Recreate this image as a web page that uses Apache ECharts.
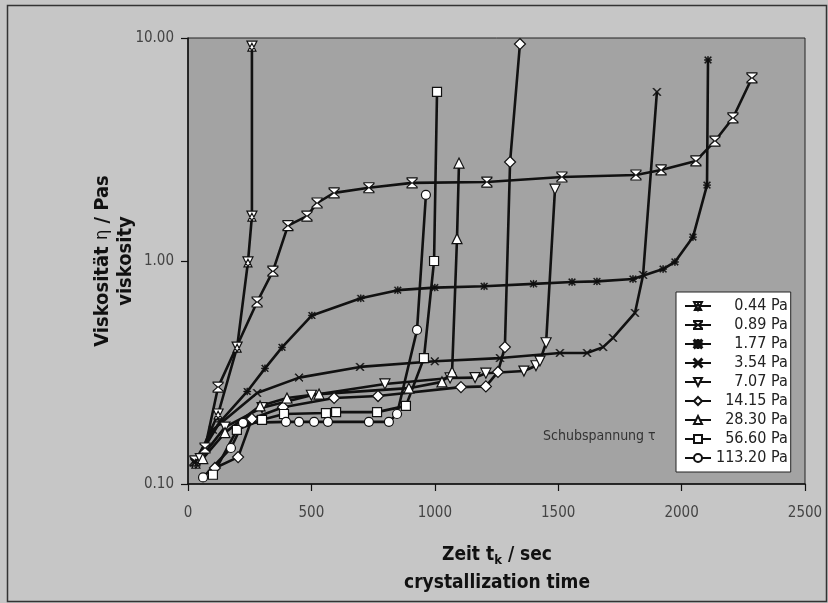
<!DOCTYPE html>
<html>
<head>
<meta charset="utf-8">
<script src="https://cdn.jsdelivr.net/npm/echarts@6/dist/echarts.min.js"></script>
<style>
html,body{margin:0;padding:0;background:#c6c6c6;}
#chart{width:828px;height:603px;}
</style>
</head>
<body>
<div id="chart"></div>
<script>
// ---- data (x: crystallization time / s, y: viscosity / Pa s) ----
const seriesNames = ['0.44 Pa','0.89 Pa','1.77 Pa','3.54 Pa','7.07 Pa','14.15 Pa','28.30 Pa','56.60 Pa','113.20 Pa'];
const xTicks = [0, 500, 1000, 1500, 2000, 2500];
const yTicks = [0.1, 1, 10];

const s044 = [[32,0.124],[122,0.206],[199,0.411],[243,0.99],[259,1.59],[259,9.2]];
const s089 = [[28,0.127],[69,0.145],[122,0.272],[280,0.655],[344,0.90],[405,1.44],[482,1.59],[523,1.82],[592,2.02],[733,2.13],[908,2.24],[1211,2.26],[1515,2.38],[1815,2.43],[1917,2.56],[2058,2.81],[2135,3.45],[2208,4.38],[2285,6.62]];
const s177 = [[30,0.125],[130,0.19],[240,0.26],[312,0.33],[381,0.41],[502,0.57],[700,0.68],[850,0.74],[1000,0.76],[1200,0.77],[1400,0.79],[1556,0.805],[1657,0.81],[1803,0.83],[1925,0.92],[1973,0.99],[2046,1.28],[2103,2.19],[2107,7.97]];
const s354 = [[25,0.125],[101,0.175],[280,0.256],[450,0.30],[697,0.335],[1000,0.355],[1264,0.367],[1507,0.387],[1617,0.387],[1682,0.411],[1722,0.452],[1811,0.585],[1844,0.866],[1900,5.73]];
const s707 = [[50,0.13],[150,0.18],[300,0.22],[500,0.25],[798,0.281],[1062,0.299],[1163,0.30],[1207,0.314],[1361,0.321],[1410,0.339],[1426,0.356],[1451,0.43],[1487,2.10]];
const s1415 = [[109,0.118],[203,0.132],[259,0.196],[385,0.221],[592,0.243],[770,0.248],[1106,0.272],[1207,0.274],[1256,0.318],[1284,0.411],[1305,2.78],[1345,9.4]];
const s2830 = [[60,0.13],[150,0.17],[292,0.224],[401,0.243],[531,0.253],[895,0.269],[1029,0.287],[1070,0.318],[1090,1.26],[1098,2.75]];
const s5660 = [[101,0.110],[198,0.175],[300,0.194],[389,0.206],[559,0.208],[600,0.210],[766,0.210],[883,0.224],[956,0.367],[997,1.0],[1009,5.73]];
const s11320 = [[61,0.107],[174,0.145],[223,0.188],[397,0.19],[450,0.19],[511,0.19],[567,0.19],[733,0.19],[814,0.19],[847,0.206],[928,0.491],[964,1.98]];

const seriesData = [s044, s089, s177, s354, s707, s1415, s2830, s5660, s11320];

// ---- symbols ----
const SYM_HEX = 'path://M0,0 L10,0 L5,9 Z M5,2 L9,9 L1,9 Z';
const SYM_HOUR = 'path://M0,0 L10,0 L10,1 L5.6,5 L10,9 L10,10 L0,10 L0,9 L4.4,5 L0,1 Z';
const SYM_STAR = 'path://M4.4,0 L5.6,0 L5.6,4.4 L10,4.4 L10,5.6 L5.6,5.6 L5.6,10 L4.4,10 L4.4,5.6 L0,5.6 L0,4.4 L4.4,4.4 Z M1,0 L5,4 L9,0 L10,1 L6,5 L10,9 L9,10 L5,6 L1,10 L0,9 L4,5 L0,1 Z';
const SYM_X = 'path://M0.8,0 L5,4.2 L9.2,0 L10,0.8 L5.8,5 L10,9.2 L9.2,10 L5,5.8 L0.8,10 L0,9.2 L4.2,5 L0,0.8 Z';

const symbolDefs = [
  {symbol: SYM_HEX, size: 10, rotate: 0, fill: '#fff'},
  {symbol: SYM_HOUR, size: 10, rotate: 0, fill: '#fff'},
  {symbol: SYM_STAR, size: 7, rotate: 0, fill: '#111'},
  {symbol: SYM_X, size: 8, rotate: 0, fill: '#111'},
  {symbol: 'triangle', size: 10, rotate: 180, fill: '#fff'},
  {symbol: 'diamond', size: 11, rotate: 0, fill: '#fff'},
  {symbol: 'triangle', size: 10, rotate: 0, fill: '#fff'},
  {symbol: 'rect', size: 9, rotate: 0, fill: '#fff'},
  {symbol: 'circle', size: 9, rotate: 0, fill: '#fff'}
];

const NARROW = "'DejaVu Sans Condensed','Liberation Sans Narrow',sans-serif";
const FIG = '\u2007';
// right-align legend labels with figure spaces
const maxLen = Math.max(...seriesNames.map(s => s.length));
const legendLabel = name => FIG.repeat(maxLen - name.length) + name;

const chart = echarts.init(document.getElementById('chart'), null, {renderer: 'canvas'});

const series = seriesNames.map((name, i) => ({
  name: name,
  type: 'line',
  data: seriesData[i],
  symbol: symbolDefs[i].symbol,
  symbolSize: symbolDefs[i].size,
  symbolRotate: symbolDefs[i].rotate,
  showAllSymbol: true,
  lineStyle: {color: '#111', width: 2.6},
  itemStyle: {color: symbolDefs[i].fill, borderColor: '#111', borderWidth: (i === 2 || i === 3) ? 0.6 : 1.2},
  emphasis: {disabled: true},
  animation: false,
  z: 3
}));

const option = {
  backgroundColor: '#c6c6c6',
  animation: false,
  grid: {left: 188, right: 23, top: 38, bottom: 119, show: true, backgroundColor: '#a3a3a3', borderColor: '#222', borderWidth: 1},
  xAxis: {
    type: 'value', min: xTicks[0], max: xTicks[xTicks.length - 1], interval: 500,
    axisLine: {show: true, lineStyle: {color: '#111', width: 1.5}},
    axisTick: {show: true, inside: false, length: 7, lineStyle: {color: '#111', width: 1.2}},
    axisLabel: {color: '#444', fontSize: 15, fontFamily: NARROW, margin: 22, formatter: v => String(v)},
    splitLine: {show: false}
  },
  yAxis: {
    type: 'log', logBase: 10, min: yTicks[0], max: yTicks[yTicks.length - 1],
    axisLine: {show: true, lineStyle: {color: '#111', width: 1.5}},
    axisTick: {show: true, inside: false, length: 7, lineStyle: {color: '#111', width: 1.2}},
    minorTick: {show: false},
    axisLabel: {color: '#444', fontSize: 15, fontFamily: NARROW, margin: 14, formatter: v => v.toFixed(2)},
    splitLine: {show: false}
  },
  legend: {
    orient: 'vertical',
    left: 676, top: 292,
    backgroundColor: '#fff',
    borderColor: '#222', borderWidth: 1,
    padding: [6, 3, 6, 8],
    itemWidth: 26, itemHeight: 10, itemGap: 3,
    textStyle: {color: '#222', fontSize: 16, lineHeight: 16, fontFamily: NARROW},
    formatter: legendLabel,
    data: seriesNames,
    selectedMode: false
  },
  graphic: [
    {type: 'rect', left: 5, top: 3, shape: {width: 819, height: 596}, style: {fill: 'none', stroke: '#333', lineWidth: 1.5}, z: 100, silent: true},
    {type: 'text', left: 543, top: 429, style: {text: 'Schubspannung τ', fill: '#333', font: "14px " + NARROW}, z: 50},
    {type: 'text', x: 497, y: 541, style: {
      text: '{b|Zeit t}{s|k}{b| / sec}\n{b|crystallization time}',
      align: 'center', verticalAlign: 'top', fill: '#111', lineHeight: 28,
      rich: {
        b: {fontSize: 19, fontWeight: 'bold', fontFamily: NARROW, fill: '#111', lineHeight: 28},
        s: {fontSize: 13, fontWeight: 'bold', fontFamily: NARROW, fill: '#111', padding: [12, 0, 0, 0], lineHeight: 28}
      }
    }, z: 50},
    {type: 'text', x: 114, y: 261, rotation: Math.PI / 2, style: {
      text: '{b|Viskosität }{n|η}{b| / Pas}\n{b|viskosity}',
      align: 'center', verticalAlign: 'middle', fill: '#111', lineHeight: 23,
      rich: {
        b: {fontSize: 20, fontWeight: 'bold', fontFamily: NARROW, fill: '#111', lineHeight: 23},
        n: {fontSize: 18, fontWeight: 'normal', fontFamily: NARROW, fill: '#111', lineHeight: 23}
      }
    }, z: 50}
  ],
  series: series
};

chart.setOption(option);
</script>
</body>
</html>
